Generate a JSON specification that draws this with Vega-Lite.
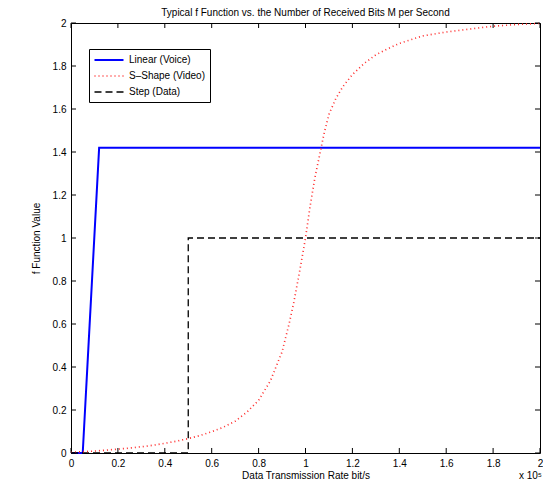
{
  "$schema": "https://vega.github.io/schema/vega-lite/v6.json",
  "width": 469,
  "height": 430,
  "autosize": {"type": "none"},
  "padding": {"left": 71, "top": 23, "right": 3, "bottom": 28},
  "background": "white",
  "title": {"text": "Typical f Function vs. the Number of Received Bits M per Second", "fontSize": 10, "fontWeight": "normal", "font": "Liberation Sans", "color": "black", "offset": 0},
  "config": {
    "font": "Liberation Sans",
    "view": {"stroke": "black", "strokeWidth": 1},
    "axis": {
      "grid": false,
      "domain": false,
      "ticks": false,
      "labelFlush": false,
      "labelColor": "black",
      "labelFontSize": 10,
      "labelFont": "Liberation Sans",
      "titleColor": "black",
      "titleFontSize": 10,
      "titleFontWeight": "normal",
      "titleFont": "Liberation Sans"
    }
  },
  "datasets": {
    "curves": [
      {"series": "Linear (Voice)", "i": 0, "x": 0, "y": 0},
      {"series": "Linear (Voice)", "i": 1, "x": 0.05, "y": 0},
      {"series": "Linear (Voice)", "i": 2, "x": 0.12, "y": 1.42},
      {"series": "Linear (Voice)", "i": 3, "x": 2, "y": 1.42},
      {"series": "Step (Data)", "i": 0, "x": 0, "y": 0},
      {"series": "Step (Data)", "i": 1, "x": 0.5, "y": 0},
      {"series": "Step (Data)", "i": 2, "x": 0.5, "y": 1},
      {"series": "Step (Data)", "i": 3, "x": 2, "y": 1},
      {"series": "S–Shape (Video)", "i": 0, "x": 0, "y": 0.004},
      {"series": "S–Shape (Video)", "i": 1, "x": 0.05, "y": 0.006},
      {"series": "S–Shape (Video)", "i": 2, "x": 0.1, "y": 0.009},
      {"series": "S–Shape (Video)", "i": 3, "x": 0.15, "y": 0.013},
      {"series": "S–Shape (Video)", "i": 4, "x": 0.2, "y": 0.018},
      {"series": "S–Shape (Video)", "i": 5, "x": 0.25, "y": 0.023},
      {"series": "S–Shape (Video)", "i": 6, "x": 0.3, "y": 0.029},
      {"series": "S–Shape (Video)", "i": 7, "x": 0.35, "y": 0.036},
      {"series": "S–Shape (Video)", "i": 8, "x": 0.4, "y": 0.045},
      {"series": "S–Shape (Video)", "i": 9, "x": 0.45, "y": 0.055},
      {"series": "S–Shape (Video)", "i": 10, "x": 0.5, "y": 0.067},
      {"series": "S–Shape (Video)", "i": 11, "x": 0.55, "y": 0.081},
      {"series": "S–Shape (Video)", "i": 12, "x": 0.6, "y": 0.099},
      {"series": "S–Shape (Video)", "i": 13, "x": 0.65, "y": 0.12},
      {"series": "S–Shape (Video)", "i": 14, "x": 0.7, "y": 0.148},
      {"series": "S–Shape (Video)", "i": 15, "x": 0.75, "y": 0.19},
      {"series": "S–Shape (Video)", "i": 16, "x": 0.8, "y": 0.245},
      {"series": "S–Shape (Video)", "i": 17, "x": 0.85, "y": 0.335},
      {"series": "S–Shape (Video)", "i": 18, "x": 0.9, "y": 0.47},
      {"series": "S–Shape (Video)", "i": 19, "x": 0.93, "y": 0.6},
      {"series": "S–Shape (Video)", "i": 20, "x": 0.95, "y": 0.7},
      {"series": "S–Shape (Video)", "i": 21, "x": 0.975, "y": 0.845},
      {"series": "S–Shape (Video)", "i": 22, "x": 1.0, "y": 1.0},
      {"series": "S–Shape (Video)", "i": 23, "x": 1.02, "y": 1.15},
      {"series": "S–Shape (Video)", "i": 24, "x": 1.04, "y": 1.28},
      {"series": "S–Shape (Video)", "i": 25, "x": 1.06, "y": 1.385},
      {"series": "S–Shape (Video)", "i": 26, "x": 1.08, "y": 1.49},
      {"series": "S–Shape (Video)", "i": 27, "x": 1.1, "y": 1.575},
      {"series": "S–Shape (Video)", "i": 28, "x": 1.13, "y": 1.65},
      {"series": "S–Shape (Video)", "i": 29, "x": 1.16, "y": 1.705},
      {"series": "S–Shape (Video)", "i": 30, "x": 1.2, "y": 1.76},
      {"series": "S–Shape (Video)", "i": 31, "x": 1.25, "y": 1.812},
      {"series": "S–Shape (Video)", "i": 32, "x": 1.3, "y": 1.852},
      {"series": "S–Shape (Video)", "i": 33, "x": 1.35, "y": 1.88},
      {"series": "S–Shape (Video)", "i": 34, "x": 1.4, "y": 1.905},
      {"series": "S–Shape (Video)", "i": 35, "x": 1.5, "y": 1.94},
      {"series": "S–Shape (Video)", "i": 36, "x": 1.6, "y": 1.958},
      {"series": "S–Shape (Video)", "i": 37, "x": 1.7, "y": 1.972},
      {"series": "S–Shape (Video)", "i": 38, "x": 1.8, "y": 1.985},
      {"series": "S–Shape (Video)", "i": 39, "x": 1.9, "y": 1.993},
      {"series": "S–Shape (Video)", "i": 40, "x": 2.0, "y": 1.998}
    ],
    "tickvals": [{"v": 0}, {"v": 0.2}, {"v": 0.4}, {"v": 0.6}, {"v": 0.8}, {"v": 1}, {"v": 1.2}, {"v": 1.4}, {"v": 1.6}, {"v": 1.8}, {"v": 2}],
    "note": [{"label": "x 10⁵", "x": 2, "y": 0}]
  },
  "layer": [
    {
      "data": {"name": "curves"},
      "mark": {"type": "line", "clip": false},
      "encoding": {
        "x": {"field": "x", "type": "quantitative", "scale": {"domain": [0, 2], "nice": false},
          "axis": {"orient": "bottom", "title": "Data Transmission Rate bit/s", "format": "~g", "labelPadding": 5, "titlePadding": 2, "values": [0, 0.2, 0.4, 0.6, 0.8, 1, 1.2, 1.4, 1.6, 1.8, 2]}},
        "y": {"field": "y", "type": "quantitative", "scale": {"domain": [0, 2], "nice": false},
          "axis": {"orient": "left", "title": "f Function Value", "format": "~g", "labelPadding": 5, "titlePadding": 11, "values": [0, 0.2, 0.4, 0.6, 0.8, 1, 1.2, 1.4, 1.6, 1.8, 2]}},
        "order": {"field": "i", "type": "quantitative"},
        "color": {"field": "series", "type": "nominal",
          "scale": {"domain": ["Linear (Voice)", "S–Shape (Video)", "Step (Data)"], "range": ["#0000ff", "#ff2a2a", "#000000"]},
          "legend": {"title": null, "orient": "none", "legendX": 18, "legendY": 26, "fillColor": "white", "strokeColor": "black", "padding": 5, "rowPadding": 5,
            "symbolType": "M-2.9,0H2.9", "symbolSize": 100, "symbolOffset": 9, "labelOffset": 14, "labelFontSize": 10, "labelFont": "Liberation Sans", "labelColor": "black", "labelLimit": 200}},
        "strokeDash": {"field": "series", "type": "nominal",
          "scale": {"domain": ["Linear (Voice)", "S–Shape (Video)", "Step (Data)"], "range": [[1, 0], [1, 3], [7, 4]]},
          "legend": {"title": null, "orient": "none", "legendX": 18, "legendY": 26, "fillColor": "white", "strokeColor": "black", "padding": 5, "rowPadding": 5,
            "symbolType": "M-2.9,0H2.9", "symbolSize": 100, "symbolOffset": 9, "labelOffset": 14, "labelFontSize": 10, "labelFont": "Liberation Sans", "labelColor": "black", "labelLimit": 200}},
        "strokeWidth": {"field": "series", "type": "nominal",
          "scale": {"domain": ["Linear (Voice)", "S–Shape (Video)", "Step (Data)"], "range": [2, 1.3, 2]},
          "legend": {"title": null, "orient": "none", "legendX": 18, "legendY": 26, "fillColor": "white", "strokeColor": "black", "padding": 5, "rowPadding": 5,
            "symbolType": "M-2.9,0H2.9", "symbolSize": 100, "symbolOffset": 9, "labelOffset": 14, "labelFontSize": 10, "labelFont": "Liberation Sans", "labelColor": "black", "labelLimit": 200}}
      }
    },
    {
      "data": {"name": "tickvals"},
      "mark": {"type": "rule", "color": "black", "strokeWidth": 1},
      "encoding": {
        "x": {"field": "v", "type": "quantitative"},
        "y": {"datum": 0, "type": "quantitative"},
        "y2": {"datum": 0.0233}
      }
    },
    {
      "data": {"name": "tickvals"},
      "mark": {"type": "rule", "color": "black", "strokeWidth": 1},
      "encoding": {
        "x": {"field": "v", "type": "quantitative"},
        "y": {"datum": 2, "type": "quantitative"},
        "y2": {"datum": 1.9767}
      }
    },
    {
      "data": {"name": "tickvals"},
      "mark": {"type": "rule", "color": "black", "strokeWidth": 1},
      "encoding": {
        "y": {"field": "v", "type": "quantitative"},
        "x": {"datum": 0, "type": "quantitative"},
        "x2": {"datum": 0.0213}
      }
    },
    {
      "data": {"name": "tickvals"},
      "mark": {"type": "rule", "color": "black", "strokeWidth": 1},
      "encoding": {
        "y": {"field": "v", "type": "quantitative"},
        "x": {"datum": 2, "type": "quantitative"},
        "x2": {"datum": 1.9787}
      }
    },
    {
      "data": {"name": "note"},
      "mark": {"type": "text", "align": "right", "baseline": "alphabetic", "dx": 2, "dy": 26, "fontSize": 10, "font": "Liberation Sans", "color": "black"},
      "encoding": {
        "x": {"field": "x", "type": "quantitative"},
        "y": {"field": "y", "type": "quantitative"},
        "text": {"field": "label"}
      }
    }
  ]
}
